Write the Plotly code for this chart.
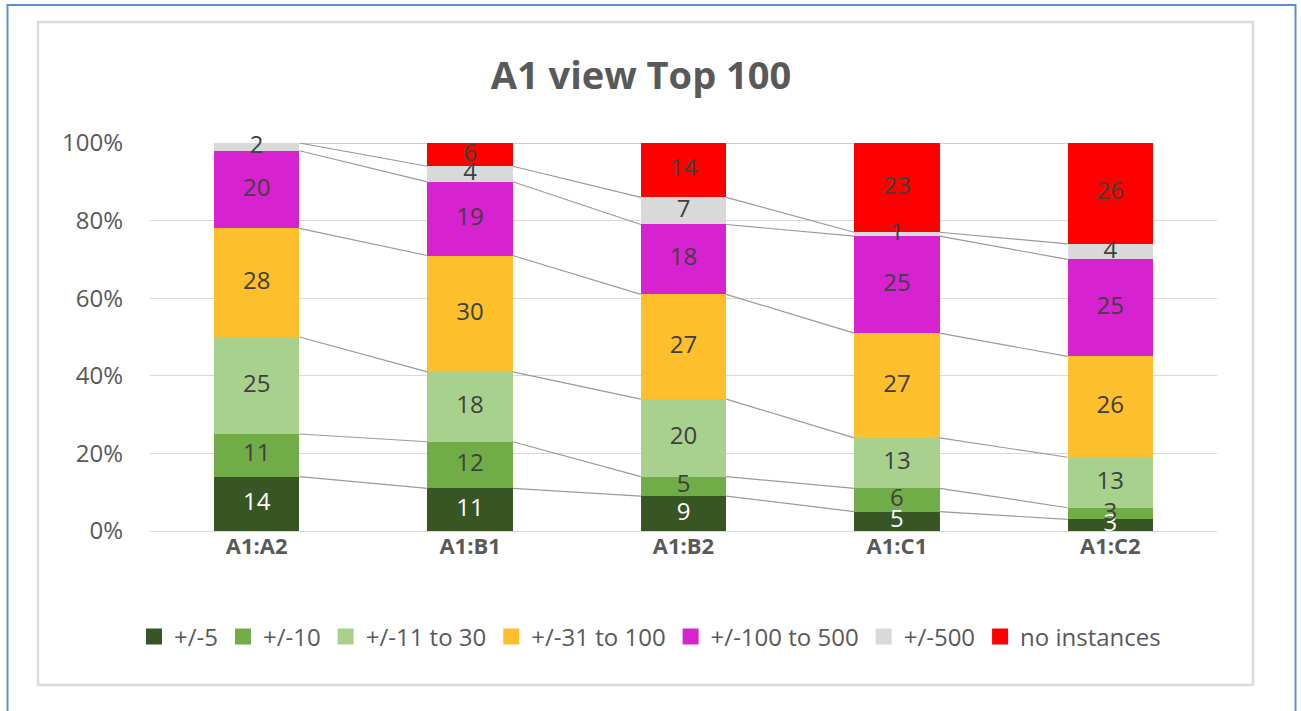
import plotly.graph_objects as go

categories = ["A1:A2", "A1:B1", "A1:B2", "A1:C1", "A1:C2"]

series_names = ["+/-5", "+/-10", "+/-11 to 30", "+/-31 to 100",
                "+/-100 to 500", "+/-500", "no instances"]

within_5 = [14, 11, 9, 5, 3]
within_10 = [11, 12, 5, 6, 3]
within_11_30 = [25, 18, 20, 13, 13]
within_31_100 = [28, 30, 27, 27, 26]
within_100_500 = [20, 19, 18, 25, 25]
beyond_500 = [2, 4, 7, 1, 4]
no_instances = [0, 6, 14, 23, 26]

series_values = [within_5, within_10, within_11_30, within_31_100,
                 within_100_500, beyond_500, no_instances]

colors = ["#375623", "#70ad47", "#a9d18e", "#fdbf2b",
          "#d622cf", "#d9d9d9", "#ff0000"]
text_colors = ["#ffffff"] + ["#404040"] * 6

FONT = "'Open Sans', Lato, sans-serif"
W, H = 1301, 711
M_L, M_R, M_T, M_B = 150, 84, 143, 180
PW, PH = W - M_L - M_R, H - M_T - M_B
BAR_W = 0.4


def px(x):
    return (x - M_L) / PW


def py(y):
    return (H - M_B - y) / PH


fig = go.Figure()

totals = [sum(s[i] for s in series_values) for i in range(len(categories))]
xs = list(range(len(categories)))

# stacked 100% bars
pct_series = []
for name, vals, col in zip(series_names, series_values, colors):
    pct = [v / t * 100 for v, t in zip(vals, totals)]
    pct_series.append(pct)
    fig.add_trace(go.Bar(
        x=xs, y=pct, name=name, showlegend=False, legendgroup=name,
        marker=dict(color=col, line=dict(width=0)),
        width=BAR_W, hoverinfo="name+y",
    ))

# value labels drawn on top of every bar segment
base = [0.0] * len(categories)
for name, vals, pct, tcol in zip(series_names, series_values, pct_series, text_colors):
    mids = [b + p / 2 for b, p in zip(base, pct)]
    base = [b + p for b, p in zip(base, pct)]
    keep = [i for i, v in enumerate(vals) if v > 0]
    fig.add_trace(go.Scatter(
        x=[xs[i] for i in keep], y=[mids[i] for i in keep],
        text=[str(vals[i]) for i in keep],
        mode="text", textposition="middle center",
        textfont=dict(family=FONT, size=24, color=tcol),
        showlegend=False, hoverinfo="skip", cliponaxis=False,
    ))

# legend entries with larger square keys
for name, col in zip(series_names, colors):
    fig.add_trace(go.Scatter(
        x=[None], y=[None], mode="markers", name=name, legendgroup=name,
        marker=dict(symbol="square", size=16, color=col),
        showlegend=True, hoverinfo="skip",
    ))

# series lines joining the top of each segment between adjacent bars
shapes = []
cum = [0.0] * len(categories)
for pct in pct_series:
    cum = [c + p for c, p in zip(cum, pct)]
    for i in range(len(categories) - 1):
        shapes.append(dict(
            type="line", xref="x", yref="y",
            x0=i + BAR_W / 2, y0=cum[i], x1=i + 1 - BAR_W / 2, y1=cum[i + 1],
            line=dict(color="#9a9a9a", width=1.2), layer="above",
        ))

# chart frames
shapes.append(dict(type="rect", xref="paper", yref="paper",
                   x0=px(38), x1=px(1253), y0=py(685), y1=py(22),
                   line=dict(color="#dcdcdc", width=2.5), layer="below"))
shapes.append(dict(type="rect", xref="paper", yref="paper",
                   x0=px(7.5), x1=px(1295.5), y0=py(720), y1=py(5),
                   line=dict(color="#5b8fd0", width=2), layer="below"))

fig.update_layout(
    width=W, height=H,
    margin=dict(l=M_L, r=M_R, t=M_T, b=M_B),
    paper_bgcolor="white", plot_bgcolor="white",
    barmode="stack", bargap=0.6,
    title=dict(text="<b>A1 view Top 100</b>", x=641 / W, xref="container",
               xanchor="center", y=1 - 76 / H, yanchor="middle",
               font=dict(family=FONT, size=38, color="#595959")),
    xaxis=dict(
        tickmode="array", tickvals=xs,
        ticktext=[f"<b>{c}</b>" for c in categories],
        range=[-0.5, len(categories) - 0.5],
        tickfont=dict(family=FONT, size=22, color="#595959"),
        showgrid=False, zeroline=False, showline=False, ticks="",
    ),
    yaxis=dict(
        range=[0, 100], tickvals=[0, 20, 40, 60, 80, 100],
        ticktext=["0%", "20%", "40%", "60%", "80%", "100%"],
        tickfont=dict(family=FONT, size=24, color="#595959"),
        showgrid=True, gridcolor="#d9d9d9", gridwidth=1,
        zeroline=True, zerolinecolor="#d9d9d9", zerolinewidth=1,
        ticks="", ticklen=0, showline=False, ticklabelstandoff=26,
    ),
    legend=dict(
        orientation="h", x=px(650), xanchor="center",
        y=py(637), yanchor="middle",
        font=dict(family=FONT, size=24, color="#595959"),
        traceorder="normal", itemwidth=30,
    ),
    shapes=shapes,
    showlegend=True,
)

fig.write_html("out.html")
